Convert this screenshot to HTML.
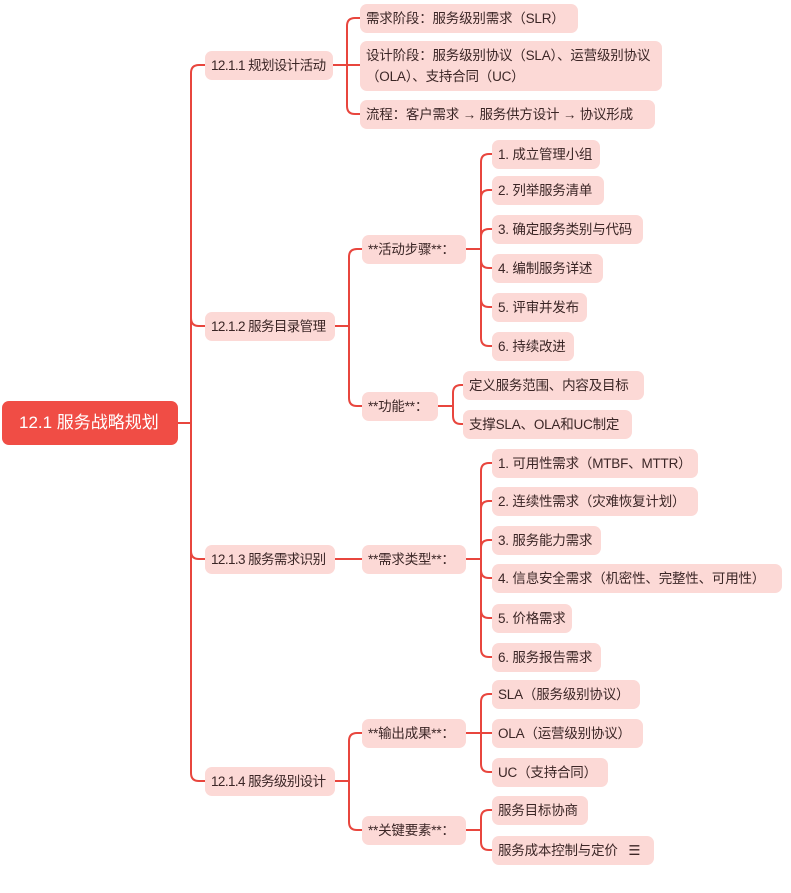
<!DOCTYPE html>
<html><head><meta charset="utf-8"><style>
body{margin:0;width:791px;height:893px;background:#fff;position:relative;overflow:hidden;font-family:"Liberation Sans","Noto Sans CJK SC",sans-serif;}
.n{position:absolute;height:29px;line-height:29px;background:#fcd9d6;border-radius:7px;font-size:13.5px;letter-spacing:-0.2px;color:#3b2626;padding:0 6px;box-sizing:border-box;white-space:nowrap;}
.s{letter-spacing:-0.6px;}
.r{position:absolute;left:2px;top:401px;width:176px;height:44px;line-height:44px;background:#f04d45;border-radius:7px;color:#fff;font-size:17px;padding-left:17px;box-sizing:border-box;}
svg{position:absolute;left:0;top:0}
</style></head><body>
<svg width="791" height="893" fill="none" stroke="#e8463e" stroke-width="2">
<path d="M178 423H191V73Q191 65 199 65H205"/>
<path d="M191 423V318Q191 326 199 326H205"/>
<path d="M191 423V551Q191 559 199 559H205"/>
<path d="M191 423V773Q191 781 199 781H205"/>
<path d="M333 65H347V26Q347 18 355 18H360"/>
<path d="M333 65H360"/>
<path d="M347 65V106Q347 114 355 114H360"/>
<path d="M335 326H349V257Q349 249 357 249H362"/>
<path d="M349 326V398Q349 406 357 406H362"/>
<path d="M466 249H481V162Q481 154 489 154H492"/>
<path d="M481 249V198Q481 190 489 190H492"/>
<path d="M481 249V237Q481 229 489 229H492"/>
<path d="M481 249V260Q481 268 489 268H492"/>
<path d="M481 249V299Q481 307 489 307H492"/>
<path d="M481 249V338Q481 346 489 346H492"/>
<path d="M438 406H453V393Q453 385 461 385H463"/>
<path d="M453 406V416Q453 424 461 424H463"/>
<path d="M335 559H362"/>
<path d="M466 559H481V471Q481 463 489 463H492"/>
<path d="M481 559V509Q481 501 489 501H492"/>
<path d="M481 559V548Q481 540 489 540H492"/>
<path d="M481 559V570Q481 578 489 578H492"/>
<path d="M481 559V610Q481 618 489 618H492"/>
<path d="M481 559V649Q481 657 489 657H492"/>
<path d="M335 781H349V741Q349 733 357 733H362"/>
<path d="M349 781V822Q349 830 357 830H362"/>
<path d="M466 733H481V702Q481 694 489 694H492"/>
<path d="M466 733H492"/>
<path d="M481 733V764Q481 772 489 772H492"/>
<path d="M466 830H481V818Q481 810 489 810H492"/>
<path d="M481 830V842Q481 850 489 850H492"/>
</svg>
<div class="r">12.1 服务战略规划</div>
<div class="n s" style="left:205px;top:51px;width:128px">12.1.1 规划设计活动</div>
<div class="n s" style="left:205px;top:312px;width:130px">12.1.2 服务目录管理</div>
<div class="n s" style="left:205px;top:545px;width:130px">12.1.3 服务需求识别</div>
<div class="n s" style="left:205px;top:767px;width:130px">12.1.4 服务级别设计</div>
<div class="n" style="left:360px;top:4px;width:218px">需求阶段：服务级别需求（SLR）</div>
<div class="n" style="left:360px;top:41px;width:302px;height:50px;line-height:21px;padding-top:4px;white-space:normal">设计阶段：服务级别协议（SLA）、运营级别协议（OLA）、支持合同（UC）</div>
<div class="n" style="left:360px;top:100px;width:295px">流程：客户需求 → 服务供方设计 → 协议形成</div>
<div class="n" style="left:362px;top:235px;width:104px">**活动步骤**：</div>
<div class="n" style="left:362px;top:392px;width:76px">**功能**：</div>
<div class="n" style="left:492px;top:140px;width:108px">1. 成立管理小组</div>
<div class="n" style="left:492px;top:176px;width:112px">2. 列举服务清单</div>
<div class="n" style="left:492px;top:215px;width:151px">3. 确定服务类别与代码</div>
<div class="n" style="left:492px;top:254px;width:111px">4. 编制服务详述</div>
<div class="n" style="left:492px;top:293px;width:95px">5. 评审并发布</div>
<div class="n" style="left:492px;top:332px;width:82px">6. 持续改进</div>
<div class="n" style="left:463px;top:371px;width:181px">定义服务范围、内容及目标</div>
<div class="n" style="left:463px;top:410px;width:169px">支撑SLA、OLA和UC制定</div>
<div class="n" style="left:362px;top:545px;width:104px">**需求类型**：</div>
<div class="n" style="left:492px;top:449px;width:206px">1. 可用性需求（MTBF、MTTR）</div>
<div class="n" style="left:492px;top:487px;width:206px">2. 连续性需求（灾难恢复计划）</div>
<div class="n" style="left:492px;top:526px;width:109px">3. 服务能力需求</div>
<div class="n" style="left:492px;top:564px;width:290px">4. 信息安全需求（机密性、完整性、可用性）</div>
<div class="n" style="left:492px;top:604px;width:80px">5. 价格需求</div>
<div class="n" style="left:492px;top:643px;width:109px">6. 服务报告需求</div>
<div class="n" style="left:362px;top:719px;width:104px">**输出成果**：</div>
<div class="n" style="left:362px;top:816px;width:104px">**关键要素**：</div>
<div class="n" style="left:492px;top:680px;width:148px">SLA（服务级别协议）</div>
<div class="n" style="left:492px;top:719px;width:151px">OLA（运营级别协议）</div>
<div class="n" style="left:492px;top:758px;width:116px">UC（支持合同）</div>
<div class="n" style="left:492px;top:796px;width:96px">服务目标协商</div>
<div class="n" style="left:492px;top:836px;width:162px">服务成本控制与定价 &nbsp;&nbsp;☰</div>
</body></html>
